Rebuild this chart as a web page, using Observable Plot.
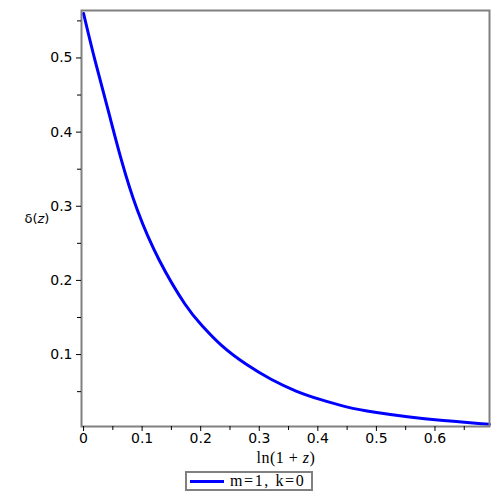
<!DOCTYPE html>
<html><head><meta charset="utf-8">
<script src="https://cdn.jsdelivr.net/npm/d3@7"></script>
<script src="https://cdn.jsdelivr.net/npm/@observablehq/plot@0.6"></script>
<style>
body{margin:0;background:#fff;}
#chart{position:relative;width:500px;height:500px;}
#chart svg{position:absolute;left:0;top:0;}
.xlabel{position:absolute;top:450px;left:226px;width:120px;line-height:16px;text-align:center;font-family:"Liberation Serif",serif;font-size:16px;letter-spacing:0.5px;color:#000;}
.legend{position:absolute;left:185px;top:471px;width:124px;height:16px;border:2px solid #808080;display:flex;align-items:center;font-family:"Liberation Serif",serif;font-size:16px;letter-spacing:1.6px;color:#000;white-space:nowrap;overflow:hidden;}
.legend .sw{display:inline-block;width:34px;height:3px;background:#0000ff;margin:0 6px 0 3px;flex:none;}
</style></head><body><div id="chart"></div>
<script>
const lnz   = [0, 0.019, 0.042, 0.064, 0.090, 0.127, 0.178, 0.201, 0.235, 0.278, 0.320, 0.363, 0.405, 0.448, 0.496, 0.553, 0.610, 0.693];
const delta = [0.560, 0.497, 0.430, 0.362, 0.295, 0.227, 0.160, 0.140, 0.111, 0.086, 0.066, 0.050, 0.039, 0.029, 0.022, 0.016, 0.0113, 0.0059];
const xTicks = [0, 0.1, 0.2, 0.3, 0.4, 0.5, 0.6];
const xMinor = [0.05, 0.15, 0.25, 0.35, 0.45, 0.55, 0.65];
const yTicks = [0.1, 0.2, 0.3, 0.4, 0.5];
const yMinor = [0.05, 0.15, 0.25, 0.35, 0.45, 0.55];
const seriesLabel = "m=1, k=0";
const yLabel = "δ(z)";

const data = lnz.map((x, i) => ({x, y: delta[i]}));

const plot = Plot.plot({
  width: 500, height: 450,
  marginLeft: 81, marginRight: 11, marginTop: 10, marginBottom: 24,
  x: {domain: [-0.0035, 0.6931]},
  y: {domain: [0.003, 0.564]},
  style: {fontFamily: "DejaVu Sans, sans-serif", fontSize: "14px", color: "#000", background: "#fff"},
  marks: [
    Plot.line(data, {x: "x", y: "y", stroke: "#0000ff", strokeWidth: 3, curve: "basis"}),
    Plot.frame({stroke: "#808080", strokeWidth: 2}),
    Plot.axisX({ticks: xTicks, tickSize: 5, tickPadding: 2, tickFormat: d => String(d), label: null}),
    Plot.axisX({ticks: xMinor, tickSize: 4, tickFormat: () => "", label: null}),
    Plot.axisY({ticks: yTicks, tickSize: 5, tickPadding: 4, tickFormat: d => String(d), label: null}),
    Plot.axisY({ticks: yMinor, tickSize: 4, tickFormat: () => "", label: null}),
    Plot.text([yLabel], {frameAnchor: "left", dx: -57, fontSize: 13, text: d => d})
  ]
});
document.getElementById("chart").appendChild(plot);
d3.select(plot).selectAll("text").each(function() {
  if (this.textContent === yLabel) {
    this.innerHTML = 'δ(<tspan font-style="italic">z</tspan>)';
  }
});
const xl = document.createElement("div");
xl.className = "xlabel";
xl.innerHTML = 'ln(1 + <i>z</i>)';
document.getElementById("chart").appendChild(xl);
const lg = document.createElement("div");
lg.className = "legend";
lg.innerHTML = '<span class="sw"></span><span></span>';
lg.lastChild.textContent = seriesLabel;
document.getElementById("chart").appendChild(lg);
</script>
</body></html>
